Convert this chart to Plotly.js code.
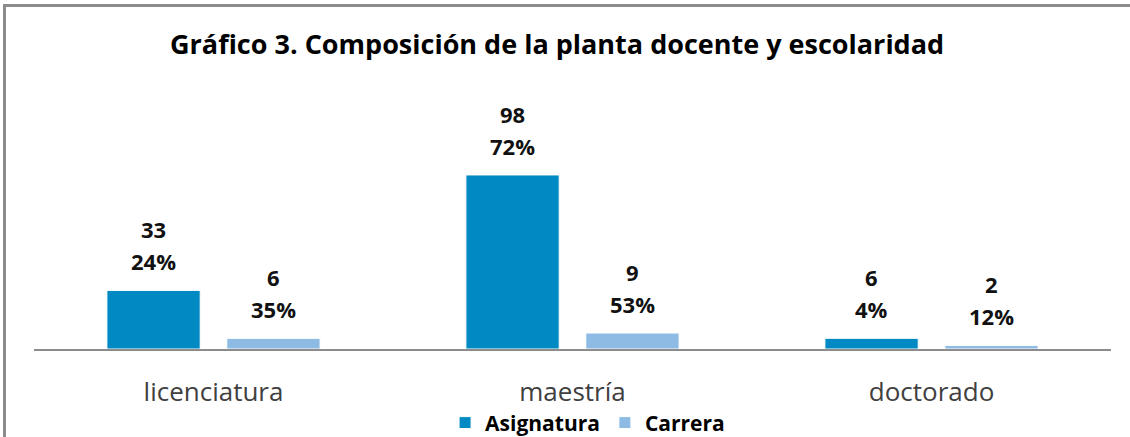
<!DOCTYPE html>
<html>
<head>
<meta charset="utf-8">
<script src="https://cdn.plot.ly/plotly-3.0.1.min.js"></script>
<style>
html,body{margin:0;padding:0;background:#fff;overflow:hidden;}
#frame{position:absolute;left:3px;top:4px;width:1140px;height:450px;border-top:3px solid #8c8c8c;border-left:3px solid #8c8c8c;box-sizing:border-box;pointer-events:none;z-index:5;}
#chart{position:absolute;left:0;top:0;width:1130px;height:437px;}
</style>
</head>
<body>
<div id="chart"></div>
<div id="frame"></div>
<script>
const categories = ["licenciatura", "maestría", "doctorado"];
const seriesNames = ["Asignatura", "Carrera"];
const asignatura = [33, 98, 6];
const carrera = [6, 9, 2];
const asignaturaPct = ["24%", "72%", "4%"];
const carreraPct = ["35%", "53%", "12%"];
const colors = ["#0089C2", "#8DBBE3"];

const FONT = "'Open Sans', sans-serif";

const traces = [
  {type: "bar", name: seriesNames[0], x: categories, y: asignatura,
   marker: {color: colors[0], line: {color: "#ffffff", width: 1}}, hoverinfo: "none"},
  {type: "bar", name: seriesNames[1], x: categories, y: carrera,
   marker: {color: colors[1], line: {color: "#ffffff", width: 1}}, hoverinfo: "none"}
];

const annotations = [];
const sets = [[asignatura, asignaturaPct, -59.75], [carrera, carreraPct, 59.75]];
sets.forEach(([vals, pcts, dx]) => {
  categories.forEach((c, i) => {
    annotations.push({x: c, y: vals[i], xref: "x", yref: "y", text: "<b>" + pcts[i] + "</b>",
      showarrow: false, xshift: dx, yshift: 29, yanchor: "middle",
      font: {family: FONT, size: 22, color: "#111"}});
    annotations.push({x: c, y: vals[i], xref: "x", yref: "y", text: "<b>" + vals[i] + "</b>",
      showarrow: false, xshift: dx, yshift: 61, yanchor: "middle",
      font: {family: FONT, size: 22, color: "#111"}});
  });
});

const layout = {
  width: 1130, height: 437,
  margin: {l: 34, r: 19, t: 100, b: 88, autoexpand: false},
  paper_bgcolor: "#ffffff", plot_bgcolor: "#ffffff",
  title: {text: "<b>Gráfico 3. Composición de la planta docente y escolaridad</b>",
    x: 0.493, xanchor: "center", y: 0.897, yanchor: "middle", xref: "container", yref: "container",
    font: {family: FONT, size: 27, color: "#000"}},
  barmode: "group", bargap: 0.332, bargroupgap: 0.222,
  showlegend: true,
  legend: {orientation: "h", x: 0.514, xanchor: "center", y: -0.297, yanchor: "middle",
    bgcolor: "rgba(0,0,0,0)",
    font: {family: FONT, size: 21, color: "#000", weight: "bold"}, itemwidth: 30, traceorder: "normal"},
  xaxis: {type: "category", showline: true, linecolor: "#8c8c8c", linewidth: 2, ticks: "",
    showgrid: false, zeroline: false, ticklabelstandoff: 19,
    tickfont: {family: FONT, size: 26, color: "#404040"}},
  yaxis: {range: [0, 140.2], visible: false, showgrid: false, zeroline: false},
  annotations: annotations
};

Plotly.newPlot("chart", traces, layout, {displayModeBar: false, staticPlot: true});
</script>
</body>
</html>
